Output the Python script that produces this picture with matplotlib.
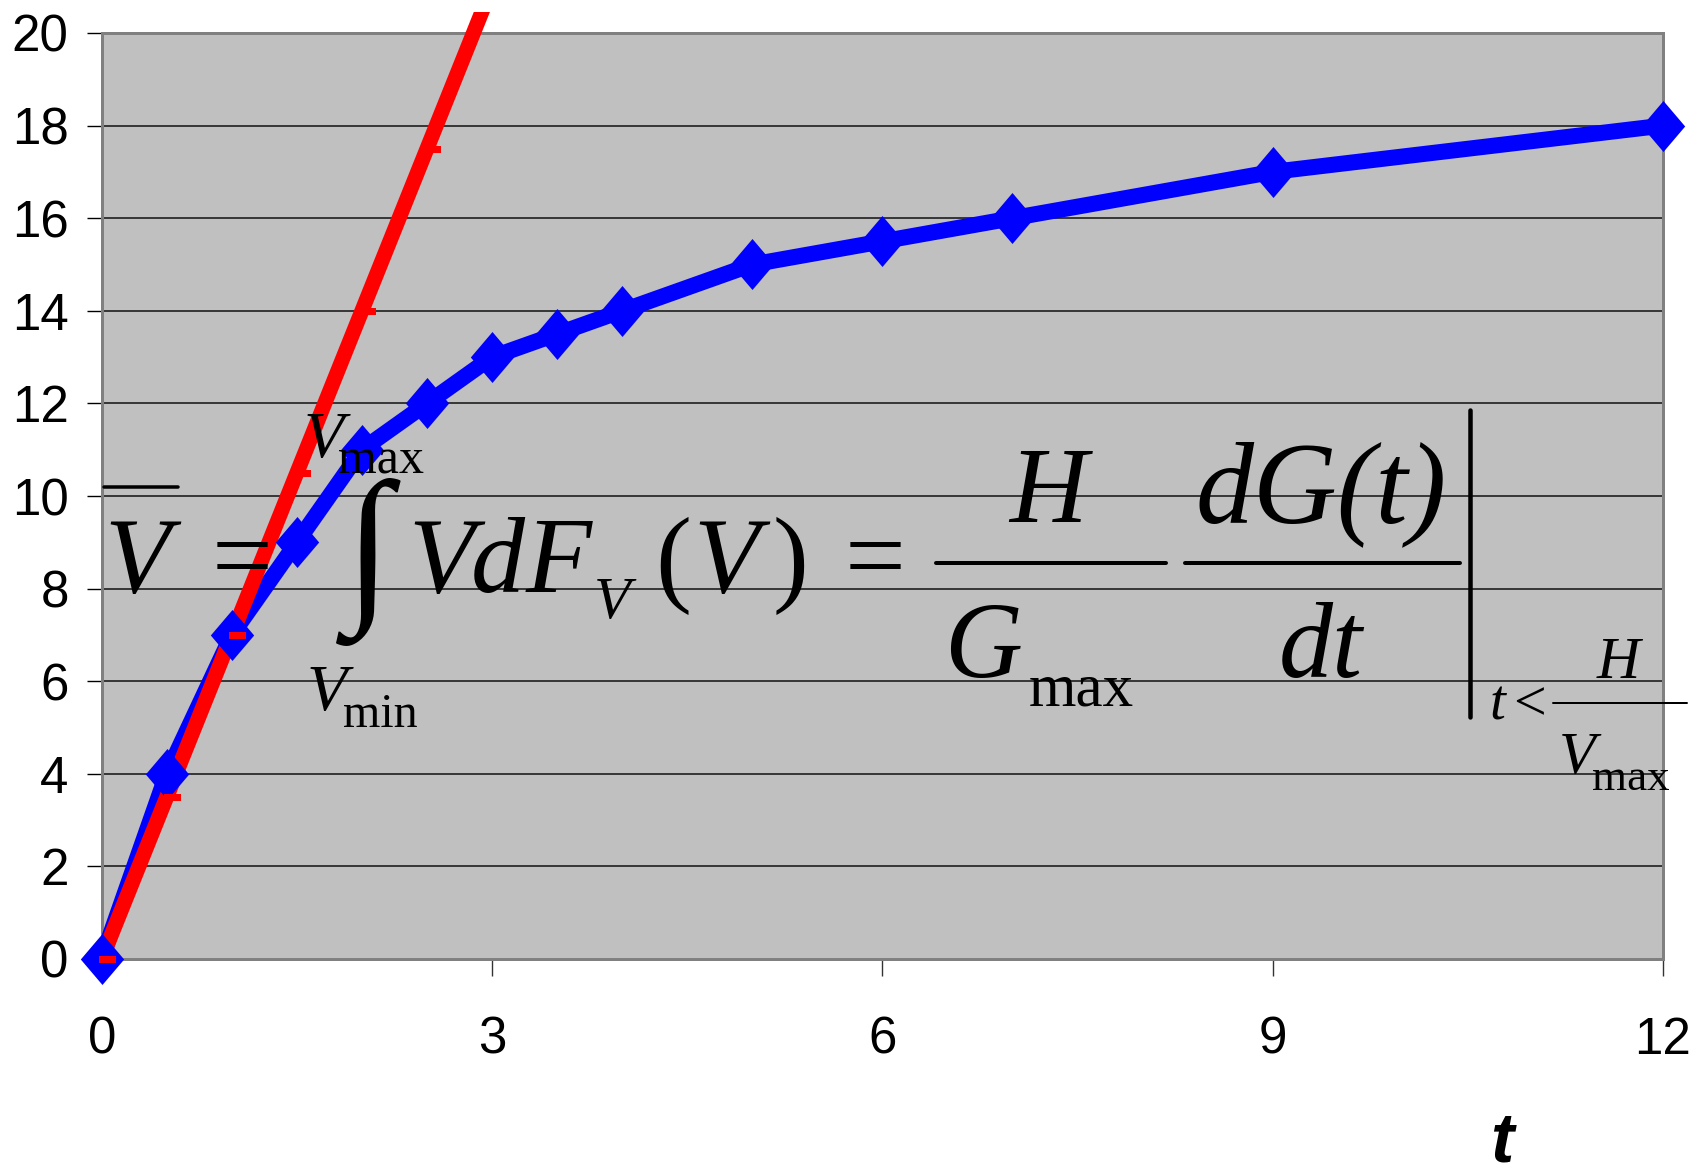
import matplotlib
matplotlib.use('Agg')
import matplotlib.pyplot as plt
from matplotlib.path import Path
from matplotlib.lines import Line2D
from matplotlib.patches import Rectangle

W, H = 1702, 1176
DPI = 100

# ---- data ----
blue_t = [0, 0.5, 1, 1.5, 2, 2.5, 3, 3.5, 4, 5, 6, 7, 9, 12]
blue_v = [0, 4, 7, 9, 11, 12, 13, 13.5, 14, 15, 15.5, 16, 17, 18]
red_t = [0, 0.5, 1, 1.5, 2, 2.5, 3]
red_v = [0, 3.5, 7, 10.5, 14, 17.5, 21]
red_marked = 6
x_ticks = [0, 3, 6, 9, 12]
y_ticks = [0, 2, 4, 6, 8, 10, 12, 14, 16, 18, 20]
x_label = 't'


def fx(x):
    return x / W


def fy(y):
    return 1 - y / H


def pt(px):
    return px * 72 / DPI


fig = plt.figure(figsize=(W / DPI, H / DPI), dpi=DPI)
fig.patch.set_facecolor('white')

L, R, T, B = 101.7, 1663, 33, 959
ax = fig.add_axes([fx(L), fy(B), fx(R) - fx(L), fy(T) - fy(B)])
ax.set_facecolor('#c0c0c0')
ax.set_xlim(0, 12)
ax.set_ylim(0, 20)
ax.set_xticks(x_ticks)
ax.set_yticks(y_ticks)
ax.set_xticklabels([str(v) for v in x_ticks])
ax.set_yticklabels([str(v) for v in y_ticks])
ax.grid(axis='y', color='#111111', lw=1.1)
ax.grid(axis='x', visible=False)
ax.set_axisbelow(True)
for s in ax.spines.values():
    s.set_color('#808080')
    s.set_linewidth(pt(3))
ax.tick_params(axis='y', length=pt(15), width=1.0, color='black', pad=pt(18),
               labelsize=pt(51))
ax.tick_params(axis='x', length=pt(17), width=1.0, color='#333333', pad=pt(40),
               labelsize=pt(51))
for lab in ax.get_xticklabels() + ax.get_yticklabels():
    lab.set_fontfamily('Liberation Sans')

diamond = Path([(0, 1), (0.85, 0), (0, -1), (-0.85, 0), (0, 1)],
               [Path.MOVETO, Path.LINETO, Path.LINETO, Path.LINETO, Path.CLOSEPOLY])
dash = Path([(-0.2, -0.25), (1, -0.25), (1, 0.25), (-0.2, 0.25), (-0.2, -0.25)],
            [Path.MOVETO, Path.LINETO, Path.LINETO, Path.LINETO, Path.CLOSEPOLY])

ax.plot(blue_t, blue_v, color='#0000ff', lw=pt(16), solid_joinstyle='round',
        solid_capstyle='round', zorder=3)
red_line, = ax.plot(red_t, red_v, color='#ff0000', lw=pt(15), zorder=4,
                    solid_capstyle='butt')
clip = Rectangle((0, 0), 1, fy(12), transform=fig.transFigure)
red_line.set_clip_path(clip)
ax.plot(blue_t, blue_v, ls='none', marker=diamond, ms=pt(51), color='#0000ff',
        mew=0, zorder=5, clip_on=False)
ax.plot(red_t[:red_marked], red_v[:red_marked], ls='none', marker=dash, ms=pt(28),
        mew=0, color='#ff0000', zorder=6, clip_on=False)

fig.text(fx(1502), fy(1162), x_label, fontfamily='Liberation Sans',
         fontweight='bold', fontstyle='italic', fontsize=pt(70),
         ha='center', va='baseline')

# ---- formula ----
SERIF = ['Liberation Serif', 'DejaVu Serif']


def tx(s, x, y, em, style='italic'):
    fig.text(fx(x), fy(y), s, fontfamily=SERIF, fontstyle=style,
             fontsize=pt(em), ha='center', va='baseline', color='black')


def bar(x0, x1, y0, y1, w):
    fig.add_artist(Line2D([fx(x0), fx(x1)], [fy(y0), fy(y1)], lw=pt(w),
                          color='black', solid_capstyle='round',
                          transform=fig.transFigure))


MAIN = 108
tx('V', 137, 592, MAIN)
bar(104, 178, 487, 487, 3.5)
tx('=', 242, 591, MAIN, 'normal')
tx('\u222b', 368, 600, 171, 'normal')
tx('V', 324, 457, 66)
tx('max', 381, 473, 50, 'normal')
tx('V', 327, 710, 66)
tx('min', 380, 727, 48, 'normal')
tx('V', 441, 592, MAIN)
tx('d', 498, 592, MAIN)
tx('F', 559, 592, MAIN)
tx('V', 612, 618, 60)
tx('(', 673, 592, MAIN, 'normal')
tx('V', 726, 592, MAIN)
tx(')', 790, 592, MAIN, 'normal')
tx('=', 875, 591, MAIN, 'normal')
tx('H', 1048, 522, MAIN)
bar(936, 1166, 563, 563, 4)
tx('G', 983, 677, MAIN)
tx('max', 1081, 706, 61, 'normal')
tx('dG(t)', 1321, 522, 116)
bar(1185, 1460, 563, 563, 4)
tx('dt', 1321, 677, MAIN)
bar(1470, 1470, 410, 717, 4.5)
tx('t', 1497, 720, 57)
tx('<', 1530, 720, 58, 'normal')
tx('H', 1618, 678, 60)
bar(1553, 1687, 703, 703, 2)
tx('V', 1577, 773, 60)
tx('max', 1631, 790, 45, 'normal')

fig.savefig('out.png', dpi=DPI)
